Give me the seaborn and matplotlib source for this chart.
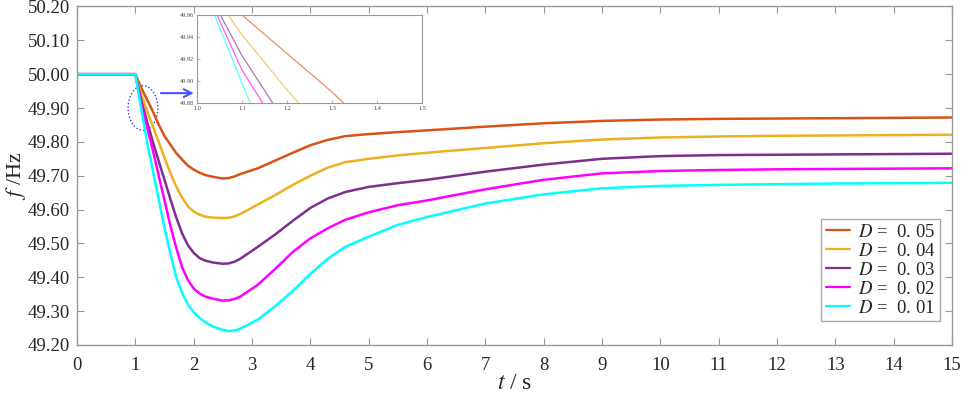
import numpy as np
import pandas as pd
import matplotlib
matplotlib.use("Agg")
import matplotlib.pyplot as plt
import seaborn as sns
from matplotlib.patches import Ellipse
from matplotlib.ticker import FormatStrFormatter

# time (s)
t = [0, 1.0, 1.1, 1.2, 1.3, 1.4, 1.5, 1.6, 1.7, 1.8, 1.9, 2.0, 2.1, 2.2, 2.35, 2.5, 2.6, 2.7, 2.8,
     3.1, 3.4, 3.7, 4.0, 4.3, 4.6, 5.0, 5.5, 6, 7, 8, 9, 10, 11, 12, 13, 14, 15]

# frequency (Hz) per damping value
f_005 = [50.0, 50.0, 49.960, 49.925, 49.890, 49.851, 49.817, 49.792, 49.767, 49.748,
         49.730, 49.718, 49.709, 49.702, 49.696, 49.692, 49.693, 49.698, 49.705,
         49.722, 49.745, 49.768, 49.790, 49.806, 49.817, 49.823, 49.829, 49.834,
         49.845, 49.855, 49.862, 49.866, 49.868, 49.869, 49.870, 49.871, 49.872]
f_004 = [50.0, 50.0, 49.942, 49.892, 49.846, 49.800, 49.753, 49.708, 49.668, 49.636,
         49.610, 49.594, 49.585, 49.579, 49.576, 49.575, 49.576, 49.580, 49.587,
         49.615, 49.643, 49.673, 49.700, 49.724, 49.740, 49.750, 49.760, 49.768,
         49.782, 49.796, 49.807, 49.813, 49.816, 49.818, 49.819, 49.820, 49.821]
f_003 = [50.0, 50.0, 49.923, 49.860, 49.800, 49.743, 49.688, 49.631, 49.577, 49.530,
         49.495, 49.472, 49.457, 49.449, 49.443, 49.440, 49.441, 49.446, 49.455,
         49.490, 49.527, 49.567, 49.605, 49.633, 49.652, 49.667, 49.678, 49.688,
         49.712, 49.733, 49.750, 49.758, 49.761, 49.762, 49.763, 49.764, 49.765]
f_002 = [50.0, 50.0, 49.910, 49.845, 49.775, 49.700, 49.627, 49.552, 49.488, 49.430,
         49.392, 49.367, 49.352, 49.343, 49.336, 49.331, 49.332, 49.336, 49.343,
         49.378, 49.425, 49.475, 49.515, 49.545, 49.570, 49.592, 49.613, 49.627,
         49.660, 49.688, 49.707, 49.714, 49.717, 49.719, 49.720, 49.721, 49.722]
f_001 = [50.0, 50.0, 49.898, 49.800, 49.715, 49.630, 49.545, 49.470, 49.400, 49.354,
         49.320, 49.297, 49.280, 49.267, 49.253, 49.245, 49.241, 49.243, 49.248,
         49.275, 49.315, 49.360, 49.410, 49.455, 49.490, 49.520, 49.555, 49.578,
         49.618, 49.645, 49.663, 49.670, 49.673, 49.675, 49.677, 49.678, 49.679]

labels = ["$D$ =  0. 05", "$D$ =  0. 04", "$D$ =  0. 03", "$D$ =  0. 02", "$D$ =  0. 01"]
colors = ["#D95319", "#EDB120", "#7E2F8E", "#FF00FF", "#00FFFF"]
series = [f_005, f_004, f_003, f_002, f_001]

df = pd.concat([pd.DataFrame({"t": t, "f": s, "D": lab}) for s, lab in zip(series, labels)])
palette = dict(zip(labels, colors))

sns.set_theme(style="white")
plt.rcParams["font.family"] = ["Liberation Serif", "DejaVu Serif"]
plt.rcParams["mathtext.fontset"] = "stix"

fig = plt.figure(figsize=(9.69, 3.95), dpi=100)
ax = fig.add_axes([0.0795, 0.1266, 0.903, 0.857])
sns.lineplot(data=df, x="t", y="f", hue="D", hue_order=labels, palette=palette,
             estimator=None, linewidth=1.8, ax=ax)

ax.set_xlim(0, 15)
ax.set_ylim(49.2, 50.2)
ax.set_xticks(range(16))
ax.set_yticks(np.arange(49.2, 50.21, 0.1))
ax.yaxis.set_major_formatter(FormatStrFormatter("%.2f"))
ax.tick_params(direction="in", bottom=True, left=True, top=True, right=True,
               length=5, width=0.8, color="#999999", labelsize=13.5,
               labelcolor="#262626", pad=5)
ax.tick_params(axis="x", pad=9)
for sp in ax.spines.values():
    sp.set_color("#999999")
    sp.set_linewidth(1.0)
ax.set_xlabel("$t$ / s", fontsize=17, color="#262626", labelpad=-1)
ax.set_ylabel("$f$ /Hz", fontsize=16, color="#262626", labelpad=0)

leg = ax.legend(loc="lower right", bbox_to_anchor=(0.986, 0.07), borderaxespad=0,
                fontsize=13.5, handlelength=1.3, handletextpad=0.4, labelspacing=0.1,
                borderpad=0.25, fancybox=False, framealpha=1, edgecolor="#aaaaaa")
leg.get_frame().set_linewidth(1.0)
for line in leg.get_lines():
    line.set_linewidth(1.6)

# dotted ellipse and arrow to the zoom window
ax.add_patch(Ellipse((1.13, 49.90), 0.51, 0.132, fill=False, edgecolor="#3344ee",
                     linestyle=(0, (1, 1.5)), linewidth=1.0))
ax.annotate("", xy=(2.05, 49.944), xytext=(1.39, 49.944),
            arrowprops=dict(arrowstyle="->", color="#4455ff", lw=1.5, mutation_scale=14))

# zoom window
axin = fig.add_axes([0.2033, 0.7392, 0.2322, 0.2228])
sns.lineplot(data=df, x="t", y="f", hue="D", hue_order=labels, palette=palette,
             estimator=None, linewidth=0.9, alpha=0.65, legend=False, ax=axin)
axin.set_xlim(1.0, 1.5)
axin.set_ylim(49.88, 49.96)
axin.set_xticks(np.arange(1.0, 1.51, 0.1))
axin.set_yticks(np.arange(49.88, 49.961, 0.02))
axin.xaxis.set_major_formatter(FormatStrFormatter("%.1f"))
axin.yaxis.set_major_formatter(FormatStrFormatter("%.2f"))
axin.tick_params(direction="in", bottom=True, left=True, length=2, width=0.5,
                 color="#999999", labelsize=4.5, labelcolor="#444444", pad=2)
axin.set_xlabel("")
axin.set_ylabel("")
for sp in axin.spines.values():
    sp.set_color("#999999")
    sp.set_linewidth(0.8)

fig.savefig("out.png", dpi=100)
